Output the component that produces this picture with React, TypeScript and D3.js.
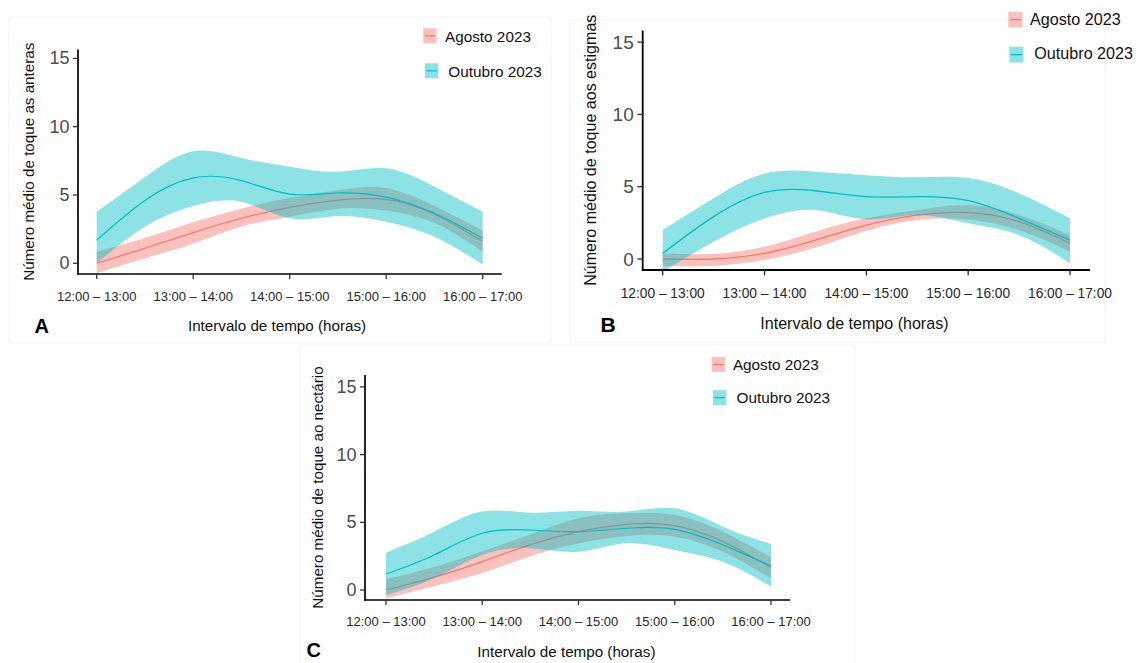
import React from "react";
import * as d3 from "d3";

// Time intervals on the x axis (band positions 0..4)
const intervals = ["12:00 – 13:00", "13:00 – 14:00", "14:00 – 15:00", "15:00 – 16:00", "16:00 – 17:00"];
// Positions along the interval axis at which the smoothed curves are given
const samplePos = [0, 0.5, 1, 1.5, 2, 2.5, 3, 3.5, 4];
const yTicks = [0, 5, 10, 15];

// A — touches on anthers
const antherAugMean = [0, 1.1, 2.25, 3.3, 4.1, 4.63, 4.68, 3.6, 1.6];
const antherAugLo = [-0.73, 0.37, 1.45, 2.7, 3.4, 4.0, 3.85, 2.95, 0.85];
const antherAugHi = [0.85, 1.85, 3.0, 4.0, 4.8, 5.35, 5.5, 4.2, 2.4];
const antherOctMean = [1.7, 4.6, 6.25, 6.05, 5.07, 5.15, 4.85, 3.66, 1.83];
const antherOctLo = [0.0, 2.7, 4.2, 4.5, 3.3, 3.46, 3.05, 1.95, -0.1];
const antherOctHi = [3.78, 6.3, 8.2, 7.7, 7.07, 6.7, 6.95, 5.6, 3.78];

// B — touches on stigmas
const stigmaAugMean = [0, 0, 0.39, 1.31, 2.35, 3.04, 3.2, 2.58, 1.08];
const stigmaAugLo = [-0.48, -0.48, -0.07, 0.8, 1.96, 2.7, 2.74, 2.0, 0.5];
const stigmaAugHi = [0.39, 0.35, 0.85, 1.89, 2.81, 3.39, 3.73, 3.04, 1.66];
const stigmaOctMean = [0.39, 2.93, 4.6, 4.72, 4.31, 4.31, 4.03, 2.81, 1.31];
const stigmaOctLo = [-0.9, 1.2, 2.81, 3.39, 2.74, 3.04, 2.47, 1.66, -0.3];
const stigmaOctHi = [2.0, 4.2, 5.9, 6.04, 5.8, 5.65, 5.6, 4.54, 2.81];

// C — touches on the nectary
const nectarAugMean = [0, 0.95, 2.1, 3.35, 4.31, 4.85, 4.75, 3.57, 1.67];
const nectarAugLo = [-0.62, 0.3, 1.25, 2.5, 3.45, 3.99, 3.94, 2.83, 0.86];
const nectarAugHi = [0.79, 1.7, 2.85, 4.1, 5.3, 5.67, 5.54, 4.31, 2.41];
const nectarOctMean = [1.18, 2.59, 4.19, 4.43, 4.31, 4.56, 4.48, 3.33, 1.77];
const nectarOctLo = [-0.37, 0.86, 2.59, 3.08, 2.83, 3.45, 2.96, 2.09, 0.25];
const nectarOctHi = [2.76, 4.31, 5.79, 5.71, 5.86, 5.79, 6.03, 4.68, 3.4];

const seriesNames = ["Agosto 2023", "Outubro 2023"];
const AUG = "#F8766D";
const OCT = "#00BFC4";
const BAND_ALPHA = 0.45;
const FONT = "'Liberation Sans', Arial, Helvetica, sans-serif";

type Series = { name: string; color: string; mean: number[]; lo: number[]; hi: number[] };

type Layout = {
  id: string;
  tag: string;
  yTitle: string;
  s: number; // text scale
  axisLeft: number;
  axisRight: number;
  axisTop: number;
  axisBottom: number;
  xr: [number, number];
  yr: [number, number];
  tickLabelY: number;
  titleX: number;
  titleY: number;
  tagX: number;
  tagY: number;
  yTitleX: number;
  legend: { kx: number; ky: number; tx: number; ty: number }[];
};

function Panel({ L, series }: { L: Layout; series: Series[] }) {
  const x = d3.scaleLinear().domain([0, 4]).range(L.xr);
  const y = d3.scaleLinear().domain([0, 15]).range(L.yr);
  const idx = d3.range(samplePos.length);

  const line = (vals: number[]) =>
    d3
      .line<number>()
      .x((i) => x(samplePos[i]))
      .y((i) => y(vals[i]))
      .curve(d3.curveNatural)(idx) as string;

  const band = (lo: number[], hi: number[]) =>
    d3
      .area<number>()
      .x((i) => x(samplePos[i]))
      .y0((i) => y(lo[i]))
      .y1((i) => y(hi[i]))
      .curve(d3.curveNatural)(idx) as string;

  const s = L.s;
  const clipId = `clip-${L.id}`;
  const yMid = (L.axisTop + L.axisBottom) / 2;

  return (
    <g>
      <defs>
        <clipPath id={clipId}>
          <rect x={L.axisLeft} y={L.axisTop} width={L.axisRight - L.axisLeft} height={L.axisBottom - L.axisTop} />
        </clipPath>
      </defs>

      <g clipPath={`url(#${clipId})`}>
        {series.map((sr) => (
          <g key={sr.name}>
            <path d={band(sr.lo, sr.hi)} fill={sr.color} fillOpacity={BAND_ALPHA} stroke="none" />
            <path d={line(sr.mean)} fill="none" stroke={sr.color} strokeWidth={1.2 * s} />
          </g>
        ))}
      </g>

      {/* axes */}
      <line x1={L.axisLeft} x2={L.axisLeft} y1={L.axisTop} y2={L.axisBottom + 0.8} stroke="#000" strokeWidth={1.7 * s} />
      <line x1={L.axisLeft - 0.8} x2={L.axisRight} y1={L.axisBottom} y2={L.axisBottom} stroke="#000" strokeWidth={1.7 * s} />

      {yTicks.map((t) => (
        <g key={`y${t}`}>
          <line x1={L.axisLeft - 5 * s} x2={L.axisLeft} y1={y(t)} y2={y(t)} stroke="#333" strokeWidth={1.3 * s} />
          <text
            x={L.axisLeft - 8.5 * s}
            y={y(t)}
            textAnchor="end"
            dominantBaseline="central"
            fontSize={18 * s}
            fill="#4d4d4d"
            fontFamily={FONT}
          >
            {t}
          </text>
        </g>
      ))}

      {intervals.map((lab, i) => (
        <g key={lab}>
          <line x1={x(i)} x2={x(i)} y1={L.axisBottom} y2={L.axisBottom + 5 * s} stroke="#333" strokeWidth={1.3 * s} />
          <text
            x={x(i)}
            y={L.tickLabelY}
            textAnchor="middle"
            dominantBaseline="central"
            fontSize={13 * s}
            fill="#262626"
            fontFamily={FONT}
          >
            {lab}
          </text>
        </g>
      ))}

      {/* axis titles */}
      <text
        x={L.titleX}
        y={L.titleY}
        textAnchor="middle"
        dominantBaseline="central"
        fontSize={15.2 * s}
        fill="#111"
        fontFamily={FONT}
      >
        Intervalo de tempo (horas)
      </text>
      <text
        transform={`translate(${L.yTitleX},${yMid}) rotate(-90)`}
        textAnchor="middle"
        dominantBaseline="central"
        fontSize={15.2 * s}
        fill="#111"
        fontFamily={FONT}
      >
        {L.yTitle}
      </text>

      {/* panel tag */}
      <text
        x={L.tagX}
        y={L.tagY}
        textAnchor="middle"
        dominantBaseline="central"
        fontSize={20 * s}
        fontWeight="bold"
        fill="#000"
        fontFamily={FONT}
      >
        {L.tag}
      </text>

      {/* legend */}
      {series.map((sr, i) => {
        const p = L.legend[i];
        const kw = 13.4 * s;
        const kh = 15 * s;
        return (
          <g key={`lg${sr.name}`}>
            <rect x={p.kx} y={p.ky} width={kw} height={kh} fill={sr.color} fillOpacity={BAND_ALPHA} />
            <line
              x1={p.kx + 1.5}
              x2={p.kx + kw - 1.5}
              y1={p.ky + kh / 2}
              y2={p.ky + kh / 2}
              stroke={sr.color}
              strokeWidth={1.2 * s}
            />
            <text
              x={p.tx}
              y={p.ty}
              dominantBaseline="central"
              fontSize={15.3 * s}
              fill="#111"
              fontFamily={FONT}
            >
              {sr.name}
            </text>
          </g>
        );
      })}
    </g>
  );
}

const layoutA: Layout = {
  id: "a",
  tag: "A",
  yTitle: "Número médio de toque as anteras",
  s: 1,
  axisLeft: 78,
  axisRight: 501.7,
  axisTop: 49.5,
  axisBottom: 274,
  xr: [96.7, 482.7],
  yr: [263.3, 58.4],
  tickLabelY: 296.7,
  titleX: 277,
  titleY: 325,
  tagX: 41.7,
  tagY: 326,
  yTitleX: 28,
  legend: [
    { kx: 423.3, ky: 28.3, tx: 445, ty: 36 },
    { kx: 425, ky: 63.3, tx: 448.3, ty: 71.7 },
  ],
};

const layoutB: Layout = {
  id: "b",
  tag: "B",
  yTitle: "Número médio de toque aos estigmas",
  s: 1.056,
  axisLeft: 642.7,
  axisRight: 1090,
  axisTop: 30.5,
  axisBottom: 270,
  xr: [662.7, 1070],
  yr: [259, 42.1],
  tickLabelY: 293.3,
  titleX: 854.4,
  titleY: 323.3,
  tagX: 608,
  tagY: 324,
  yTitleX: 590,
  legend: [
    { kx: 1008.3, ky: 11.7, tx: 1030, ty: 19.3 },
    { kx: 1009.3, ky: 46.7, tx: 1034.3, ty: 53.3 },
  ],
};

const layoutC: Layout = {
  id: "c",
  tag: "C",
  yTitle: "Número médio de toque ao nectário",
  s: 1,
  axisLeft: 365,
  axisRight: 790,
  axisTop: 375,
  axisBottom: 600,
  xr: [386, 771],
  yr: [590, 386.9],
  tickLabelY: 621,
  titleX: 566.4,
  titleY: 651.5,
  tagX: 313.8,
  tagY: 650,
  yTitleX: 317,
  legend: [
    { kx: 711.6, ky: 357, tx: 732.9, ty: 364.3 },
    { kx: 713, ky: 390.2, tx: 736.5, ty: 397.5 },
  ],
};

const mk = (mean: number[], lo: number[], hi: number[], i: number): Series => ({
  name: seriesNames[i],
  color: i === 0 ? AUG : OCT,
  mean,
  lo,
  hi,
});

const panelA = [mk(antherAugMean, antherAugLo, antherAugHi, 0), mk(antherOctMean, antherOctLo, antherOctHi, 1)];
const panelB = [mk(stigmaAugMean, stigmaAugLo, stigmaAugHi, 0), mk(stigmaOctMean, stigmaOctLo, stigmaOctHi, 1)];
const panelC = [mk(nectarAugMean, nectarAugLo, nectarAugHi, 0), mk(nectarOctMean, nectarOctLo, nectarOctHi, 1)];

export default function App() {
  return (
    <svg
      width={1140}
      height={663}
      viewBox="0 0 1140 663"
      style={{ position: "absolute", left: 0, top: 0, background: "#fff" }}
    >
      <rect x={0} y={0} width={1140} height={663} fill="#fff" />
      {/* faint frames around each figure panel */}
      <rect x={9} y={17} width={542} height={326} fill="none" stroke="#f3f3f3" strokeWidth={1} />
      <rect x={570} y={20} width={535} height={322} fill="none" stroke="#f3f3f3" strokeWidth={1} />
      <rect x={300} y={345} width={555} height={320} fill="none" stroke="#f3f3f3" strokeWidth={1} />

      <Panel L={layoutA} series={panelA} />
      <Panel L={layoutB} series={panelB} />
      <Panel L={layoutC} series={panelC} />
    </svg>
  );
}
